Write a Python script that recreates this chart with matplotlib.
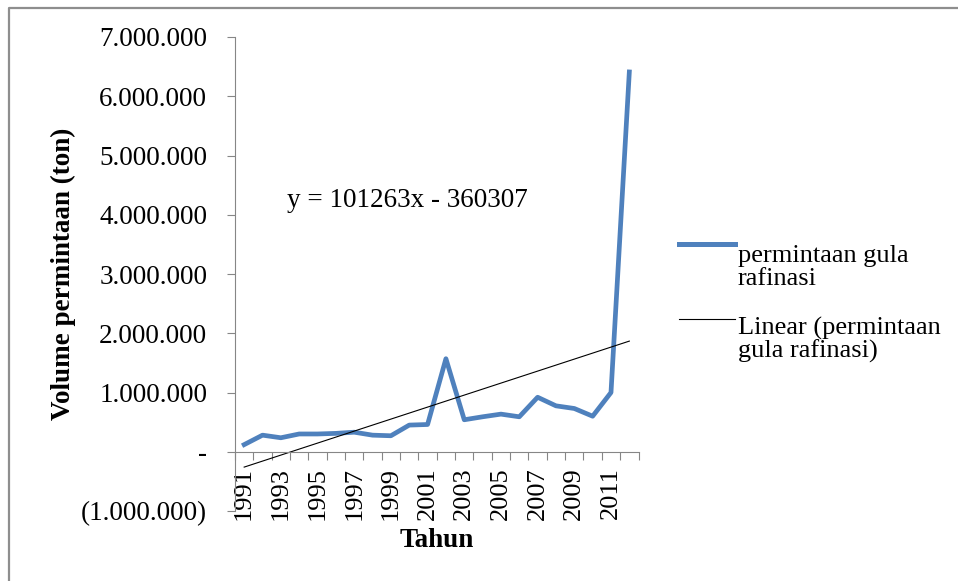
import matplotlib.pyplot as plt
import numpy as np
from matplotlib.lines import Line2D
from matplotlib.ticker import FuncFormatter

years = list(range(1991, 2013))
demand = [120000, 280000, 236000, 300000, 300000, 310000, 330000, 280000,
          270000, 450000, 460000, 1570000, 540000, 590000, 635000, 590000,
          920000, 775000, 730000, 600000, 1000000, 6410000]
trend_slope = 101263
trend_intercept = -360307
series_label = "permintaan gula\nrafinasi"
trend_label = "Linear (permintaan\ngula rafinasi)"

BLUE = "#4F81BD"
GREY = "#868686"
FONT = "Liberation Serif"
W, H = 958, 581


def fmt_volume(v, _pos):
    if abs(v) < 1:
        return "-"
    s = f"{abs(v):,.0f}".replace(",", ".")
    return f"({s})" if v < 0 else s


def fx(px):
    return px / W


def fy(py):
    return 1 - py / H


def legend_entry(fig, y_handle, y_base, label, **line_kw):
    fig.add_artist(Line2D([fx(679), fx(735)], [fy(y_handle)] * 2,
                          transform=fig.transFigure, **line_kw))
    for i, line in enumerate(label.split("\n")):
        fig.text(fx(738), fy(y_base + 23 * i), line, fontsize=19, va="baseline")


def main():
    plt.rcParams["font.family"] = FONT
    fig = plt.figure(figsize=(W / 100, H / 100), dpi=100)

    # chart-area border: only top and left edges are visible in the source
    fig.add_artist(Line2D([fx(9), fx(9), 1.0], [0.0, fy(8), fy(8)],
                          transform=fig.transFigure, color="#8E8E8E", linewidth=1.6))

    ax = fig.add_axes([fx(235), fy(511), fx(638.5) - fx(235), fy(37) - fy(511)])

    x = np.arange(len(years))
    ax.plot(x, demand, color=BLUE, linewidth=3.4, solid_joinstyle="round")
    trend = trend_slope * (x + 1) + trend_intercept
    ax.plot(x, trend, color="black", linewidth=0.8)

    ax.set_xlim(-0.5, len(years) - 0.5)
    ax.set_ylim(-1000000, 7000000)
    ax.set_yticks(np.arange(-1000000, 7000001, 1000000))
    ax.yaxis.set_major_formatter(FuncFormatter(fmt_volume))

    for side in ["top", "right"]:
        ax.spines[side].set_visible(False)
    ax.spines["bottom"].set_position(("data", 0))
    ax.spines["left"].set_color(GREY)
    ax.spines["bottom"].set_color(GREY)

    ax.set_xticks(np.arange(-0.5, len(years), 1))
    ax.set_xticklabels([])
    ax.set_xticks(x[::2], [str(y) for y in years[::2]], minor=True)
    ax.tick_params(axis="x", which="major", direction="out", length=6, color=GREY)
    ax.tick_params(axis="x", which="minor", length=0, labelsize=19, rotation=90, pad=11)
    ax.tick_params(axis="y", direction="out", length=6, color=GREY, labelsize=19.5, pad=14)

    ax.set_xlabel("Tahun", fontsize=19.5, fontweight="bold", labelpad=6)
    ax.set_ylabel("Volume permintaan (ton)", fontsize=19.5, fontweight="bold", labelpad=4)

    fig.text(fx(287), fy(207), "y = 101263x - 360307", fontsize=19.5, va="baseline")

    legend_entry(fig, 244, 262, series_label, color=BLUE, linewidth=3.6)
    legend_entry(fig, 319, 335, trend_label, color="black", linewidth=0.8)

    fig.savefig("out.png", dpi=100)
    plt.close(fig)


if __name__ == "__main__":
    main()
